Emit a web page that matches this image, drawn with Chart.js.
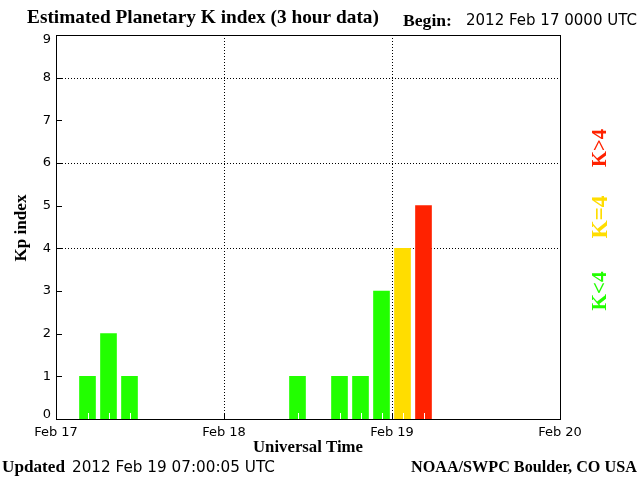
<!DOCTYPE html>
<html>
<head>
<meta charset="utf-8">
<script src="https://cdn.jsdelivr.net/npm/chart.js@4"></script>
<style>
  html, body { margin: 0; padding: 0; background: #fff; }
  canvas { display: block; }
</style>
</head>
<body>
<canvas id="kpChart" width="640" height="480"></canvas>
<script>
/* ── Data ────────────────────────────────────────────────────────────────── */
// Kp per 3-hour bin starting 2012 Feb 17 00 UTC
const KP_VALUES  = [0, 1, 2, 1, 0, 0, 0, 0, 0, 0, 0, 1, 0, 1, 1, 3, 4, 5];
const DAY_LABELS = ['Feb 17', 'Feb 18', 'Feb 19', 'Feb 20'];
const Y_TICKS    = [0, 1, 2, 3, 4, 5, 6, 7, 8, 9];
const GRID_KP    = [4, 6, 8];
const GRID_HOURS = [24, 48];

const GREEN  = '#22ff00';
const YELLOW = '#ffdd00';
const RED    = '#ff2200';

const SERIF = { weight: 'bold', family: '"Liberation Serif", serif' };
const SANS  = { weight: 'normal', family: '"DejaVu Sans", sans-serif' };

/** Colour a bar by storm level (nothing for Kp 0) */
const kpColor = v => !v ? 'rgba(0,0,0,0)' : v < 4 ? GREEN : v === 4 ? YELLOW : RED;

/** Keep the end labels inside the frame: pad with an empty line */
const yLabel = v => v === Y_TICKS[Y_TICKS.length - 1] ? ['', String(v)]
                  : v === Y_TICKS[0] ? [String(v), ''] : String(v);

/** Draw text sized so it spans the given width */
function fitText(ctx, text, x, y, width, font, align, color) {
  ctx.font = `${font.weight} 20px ${font.family}`;
  const size = 20 * width / ctx.measureText(text).width;
  ctx.font = `${font.weight} ${size.toFixed(2)}px ${font.family}`;
  ctx.textAlign = align;
  ctx.textBaseline = 'middle';
  ctx.fillStyle = color || '#000';
  ctx.fillText(text, x, y);
}

function fitTextVertical(ctx, text, x, y, width, font, color) {
  ctx.save();
  ctx.translate(x, y);
  ctx.rotate(-Math.PI / 2);
  fitText(ctx, text, 0, 0, width, font, 'center', color);
  ctx.restore();
}

/* ── Decoration plugin: grid, frame, inner ticks, texts ──────────────────── */
const kpDecor = {
  id: 'kpDecor',
  beforeDatasetsDraw(chart) {
    const { ctx, chartArea: a, scales: { x, y } } = chart;
    ctx.save();
    ctx.strokeStyle = '#000';
    ctx.lineWidth = 1;
    ctx.setLineDash([1, 2]);
    GRID_KP.forEach(v => {
      const py = Math.round(y.getPixelForValue(v)) + 0.5;
      ctx.beginPath(); ctx.moveTo(a.left + 6, py); ctx.lineTo(a.right, py); ctx.stroke();
    });
    GRID_HOURS.forEach(h => {
      const px = Math.round(x.getPixelForValue(h)) + 0.5;
      ctx.beginPath(); ctx.moveTo(px, a.top); ctx.lineTo(px, a.bottom - 6); ctx.stroke();
    });
    ctx.restore();
  },
  afterDatasetsDraw(chart) {
    const { ctx, chartArea: a, scales: { x, y } } = chart;
    ctx.save();
    ctx.lineWidth = 1;

    // frame and inward ticks
    ctx.strokeStyle = '#000';
    ctx.strokeRect(a.left + 0.5, a.top + 0.5, a.right - a.left, a.bottom - a.top);
    Y_TICKS.slice(1, -1).forEach(v => {
      const py = Math.round(y.getPixelForValue(v)) + 0.5;
      ctx.beginPath(); ctx.moveTo(a.left, py); ctx.lineTo(a.left + 6, py); ctx.stroke();
    });
    GRID_HOURS.forEach(h => {
      const px = Math.round(x.getPixelForValue(h)) + 0.5;
      ctx.beginPath(); ctx.moveTo(px, a.bottom); ctx.lineTo(px, a.bottom - 6); ctx.stroke();
    });

    // white 3-hour marks at the foot of each bar
    ctx.strokeStyle = '#fff';
    chart.getDatasetMeta(0).data.forEach((bar, i) => {
      if (!KP_VALUES[i]) return;
      const px = Math.round(bar.x) + 0.5;
      ctx.beginPath(); ctx.moveTo(px, a.bottom); ctx.lineTo(px, a.bottom - 6); ctx.stroke();
    });
    ctx.restore();
  },
  afterDraw(chart) {
    const { ctx } = chart;
    ctx.save();
    fitText(ctx, 'Estimated Planetary K index (3 hour data)', 27, 18, 352, SERIF, 'left');
    fitText(ctx, 'Begin:', 403, 21, 49, SERIF, 'left');
    fitText(ctx, '2012 Feb 17 0000 UTC', 466, 21, 171, SANS, 'left');
    fitTextVertical(ctx, 'Kp index', 22, 228, 67, SERIF);
    fitText(ctx, 'Universal Time', 308, 448, 110, SERIF, 'center');
    fitText(ctx, 'Updated', 2, 468, 63, SERIF, 'left');
    fitText(ctx, '2012 Feb 19 07:00:05 UTC', 72, 468, 203, SANS, 'left');
    fitText(ctx, 'NOAA/SWPC Boulder, CO USA', 411, 468, 226, SERIF, 'left');
    fitTextVertical(ctx, 'K>4', 601, 148, 38, SERIF, RED);
    fitTextVertical(ctx, 'K=4', 601, 217, 43, SERIF, YELLOW);
    fitTextVertical(ctx, 'K<4', 601, 291, 39, SERIF, GREEN);
    ctx.restore();
  }
};

/* ── Chart ───────────────────────────────────────────────────────────────── */
const points = KP_VALUES.map((v, i) => ({ x: i * 3 + 1.5, y: v }));

new Chart(document.getElementById('kpChart'), {
  type: 'bar',
  data: {
    datasets: [{
      data: points,
      backgroundColor: c => kpColor(c.raw ? c.raw.y : 0),
      borderWidth: 0,
      barThickness: 16,
    }]
  },
  options: {
    responsive: false,
    animation: false,
    devicePixelRatio: 1,
    layout: { padding: { top: 35, right: 80, bottom: 0, left: 0 } },
    plugins: {
      legend: { display: false },
      tooltip: { enabled: false },
    },
    scales: {
      x: {
        type: 'linear',
        min: 0,
        max: 72,
        offset: false,
        afterFit: s => { s.height = 61; },
        afterBuildTicks: s => { s.ticks = DAY_LABELS.map((_, i) => ({ value: i * 24 })); },
        ticks: {
          autoSkip: false,
          maxRotation: 0,
          padding: 6,
          color: '#000',
          font: { family: '"DejaVu Sans", sans-serif', size: 13 },
          callback: v => DAY_LABELS[v / 24],
        },
        grid: { display: false, drawTicks: false },
        border: { display: false },
      },
      y: {
        min: 0,
        max: 9,
        afterFit: s => { s.width = 56; },
        afterBuildTicks: s => { s.ticks = Y_TICKS.map(v => ({ value: v })); },
        ticks: {
          padding: 5,
          color: '#000',
          font: { family: '"DejaVu Sans", sans-serif', size: 13, lineHeight: 0.75 },
          callback: yLabel,
        },
        grid: { display: false, drawTicks: false },
        border: { display: false },
      }
    }
  },
  plugins: [kpDecor]
});
</script>
</body>
</html>
